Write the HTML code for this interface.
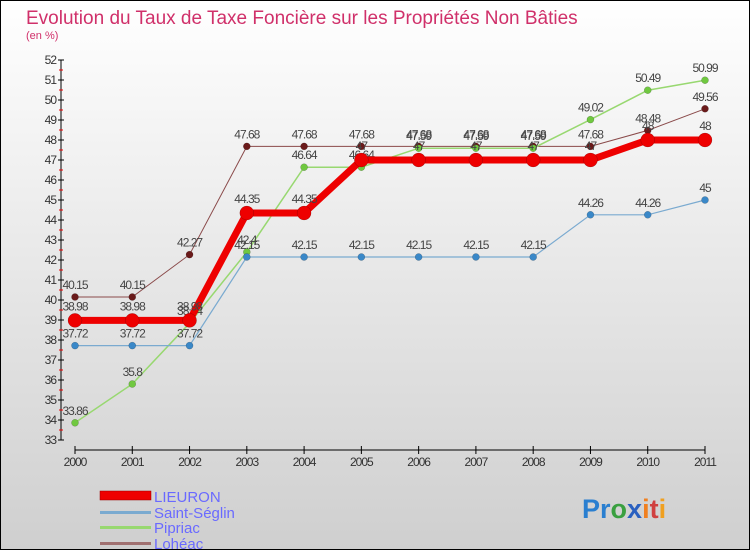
<!DOCTYPE html>
<html><head><meta charset="utf-8"><style>
body{margin:0}
#c{width:750px;height:550px;position:relative;overflow:hidden}
text{font-family:"Liberation Sans",sans-serif}
</style></head><body>
<div id="c">
<svg id="s" width="750" height="550" xmlns="http://www.w3.org/2000/svg">
<defs><linearGradient id="bg" x1="0" y1="0" x2="0" y2="1"><stop offset="0" stop-color="#ffffff"/><stop offset="1" stop-color="#cfcfcf"/></linearGradient></defs>
<rect x="0.5" y="0.5" width="749" height="549" fill="url(#bg)" stroke="#000"/>
<text x="26" y="24" font-size="19" fill="#d0306a">Evolution du Taux de Taxe Foncière sur les Propriétés Non Bâties</text>
<text x="26" y="39" font-size="11" fill="#d0306a">(en %)</text>
<g id="axes"></g><g id="series"></g>
<g>
<rect x="100" y="491" width="51" height="9" fill="#e00" stroke="#900" stroke-width="0.5"/>
<text x="154" y="502" font-size="15" fill="#6a6aff">LIEURON</text>
<rect x="100" y="511" width="51" height="3" fill="#7aaad0"/>
<text x="154" y="518" font-size="15" fill="#6a6aff">Saint-Séglin</text>
<rect x="100" y="526" width="51" height="3" fill="#98d870"/>
<text x="154" y="533" font-size="15" fill="#6a6aff">Pipriac</text>
<rect x="100" y="542" width="51" height="3" fill="#a07070"/>
<text x="154" y="549" font-size="15" fill="#6a6aff">Lohéac</text>
</g>
<text x="582" y="518" font-size="27" font-weight="bold"><tspan fill="#2a7fd0">Pr</tspan><tspan fill="#3aa040">o</tspan><tspan fill="#2a60c0">x</tspan><tspan fill="#f08020">i</tspan><tspan fill="#d04040">t</tspan><tspan fill="#f0a020">i</tspan></text>
</svg></div>
<script>
const years=["2000","2001","2002","2003","2004","2005","2006","2007","2008","2009","2010","2011"];
const lieuron=[38.98,38.98,38.98,44.35,44.35,47,47,47,47,47,48,48];
const saintSeglin=[37.72,37.72,37.72,42.15,42.15,42.15,42.15,42.15,42.15,44.26,44.26,45];
const pipriac=[33.86,35.8,38.84,42.4,46.64,46.64,47.59,47.59,47.59,49.02,50.49,50.99];
const loheac=[40.15,40.15,42.27,47.68,47.68,47.68,47.68,47.68,47.68,47.68,48.48,49.56];
const yMin=33,yMax=52;
const NS="http://www.w3.org/2000/svg";
function X(i){return 75+i*(630/(years.length-1));}
function Y(v){return 440-(v-yMin)*(380/(yMax-yMin));}
function mk(t,a,p){const e=document.createElementNS(NS,t);for(const k in a)e.setAttribute(k,a[k]);p.appendChild(e);return e;}
const ax=document.getElementById('axes');
let yl=mk('line',{x1:61,y1:60,x2:61,y2:440,stroke:'#000'},ax);


for(let v=yMin;v<=yMax;v++){
 mk('line',{x1:58,y1:Y(v),x2:64,y2:Y(v),stroke:'#000'},ax);
 if(v<yMax)mk('line',{x1:59,y1:Y(v+0.5),x2:63,y2:Y(v+0.5),stroke:'#e00'},ax);
 const t=mk('text',{x:56,y:Y(v)+4,'font-size':12,'text-anchor':'end',fill:'#333','letter-spacing':'-1'},ax);t.textContent=v;
 
 
}
let xl=mk('line',{x1:75,y1:450,x2:705,y2:450,stroke:'#000'},ax);


years.forEach((y,i)=>{
 mk('line',{x1:X(i),y1:446,x2:X(i),y2:454,stroke:'#000'},ax);
 const t=mk('text',{x:X(i),y:466,'font-size':12,'text-anchor':'middle',fill:'#333','letter-spacing':'-1'},ax);t.textContent=y;
 
 
});
const sg=document.getElementById('series');
function series(name,vals,color,w,r,mcol,dy){
 const g=mk('g',{},sg);
 
 
 mk('polyline',{points:vals.map((v,i)=>X(i)+','+Y(v)).join(' '),fill:'none',stroke:color,'stroke-width':w},g);
 vals.forEach((v,i)=>{
  const c=mk('circle',{cx:X(i),cy:Y(v),r:r,fill:mcol,stroke:'rgba(0,0,0,0.3)','stroke-width':0.5},g);
  
  
  const t=mk('text',{x:X(i),y:Y(v)+dy,'font-size':12,'text-anchor':'middle',fill:'#444','letter-spacing':'-1'},g);t.textContent=v;
  
  
 });
}
series('loheac',loheac,'#8a4a4a',1,3.5,'#6a1a1a',-8);
series('pipriac',pipriac,'#98d870',1.5,3.5,'#70c840',-8);
series('saint-seglin',saintSeglin,'#7aaad0',1.2,3.5,'#3a88c8',-8);
series('lieuron',lieuron,'#ee0000',7,7,'#ee0000',-10);
</script>
</body></html>
